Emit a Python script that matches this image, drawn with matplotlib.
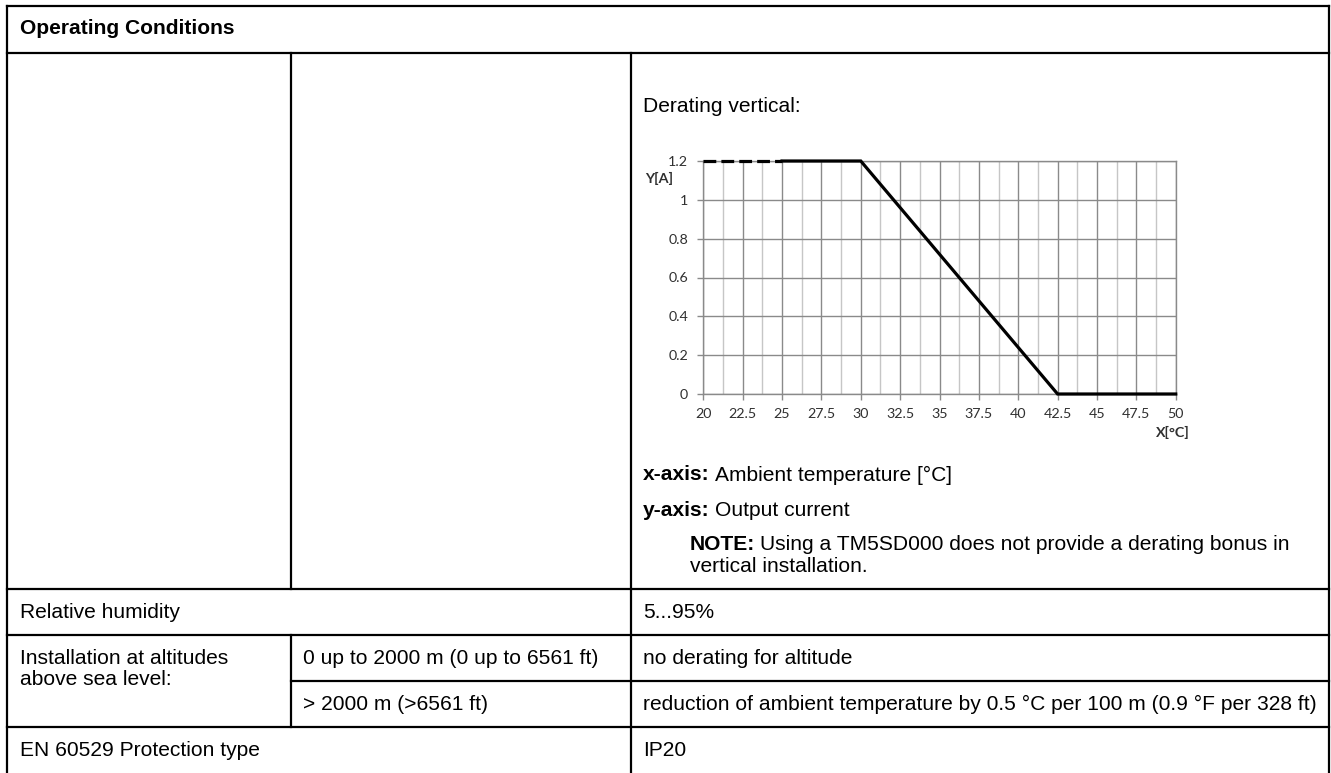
import matplotlib
matplotlib.use("Agg")
import matplotlib.pyplot as plt
from matplotlib.lines import Line2D
from matplotlib.ticker import MultipleLocator

# derating curve (ambient temperature vs output current)
temp_dashed = [20, 25]
current_dashed = [1.2, 1.2]
temp_solid = [25, 30, 42.5, 50]
current_solid = [1.2, 1.2, 0, 0]
x_ticks = [20, 22.5, 25, 27.5, 30, 32.5, 35, 37.5, 40, 42.5, 45, 47.5, 50]
y_ticks = [0, 0.2, 0.4, 0.6, 0.8, 1, 1.2]
x_tick_labels = ["20", "22.5", "25", "27.5", "30", "32.5", "35", "37.5", "40", "42.5", "45", "47.5", "50"]
y_tick_labels = ["0", "0.2", "0.4", "0.6", "0.8", "1", "1.2"]

# table text
header = "Operating Conditions"
row_labels = ["Relative humidity", "Installation at altitudes\nabove sea level:", "EN 60529 Protection type"]
altitude_ranges = ["0 up to 2000 m (0 up to 6561 ft)", "> 2000 m (>6561 ft)"]
row_values = ["5...95%", "no derating for altitude",
              "reduction of ambient temperature by 0.5 \u00b0C per 100 m (0.9 \u00b0F per 328 ft)", "IP20"]

W, H = 1331, 773
FS = 15.1
plt.rcParams['font.family'] = ['Liberation Sans', 'DejaVu Sans']
fig = plt.figure(figsize=(W / 100, H / 100), dpi=100)
renderer = fig.canvas.get_renderer()


def fx(x):
    return x / W


def fy(y):
    return 1 - y / H


def hline(y, x0, x1):
    fig.add_artist(Line2D([fx(x0), fx(x1)], [fy(y), fy(y)], color='black', lw=1.6,
                          transform=fig.transFigure, solid_capstyle='projecting'))


def vline(x, y0, y1):
    fig.add_artist(Line2D([fx(x), fx(x)], [fy(y0), fy(y1)], color='black', lw=1.6,
                          transform=fig.transFigure, solid_capstyle='projecting'))


def text(x, y, s, **kw):
    return fig.text(fx(x), fy(y), s, va='center', ha='left', fontsize=FS, color='black', **kw)


def bold_lead(x, y, lead, rest):
    # bold label followed by normal text on the same line
    t = text(x, y, lead, fontweight='bold')
    right = t.get_window_extent(renderer).x1
    text(right + 5, y, rest)


# table grid
hline(6, 7, 1329)
hline(53, 7, 1329)
hline(589, 7, 1329)
hline(635, 7, 1329)
hline(681, 291, 1329)
hline(727, 7, 1329)
vline(7, 6, 773)
vline(1329, 6, 773)
vline(291, 53, 589)
vline(291, 635, 727)
vline(631, 53, 773)

text(20, 29, header, fontweight='bold')
text(643, 107, "Derating vertical:")
bold_lead(643, 475, "x-axis:", "Ambient temperature [\u00b0C]")
bold_lead(643, 511, "y-axis:", "Output current")
bold_lead(690, 545, "NOTE:", "Using a TM5SD000 does not provide a derating bonus in")
text(690, 567, "vertical installation.")

text(20, 612, row_labels[0])
text(20, 669, row_labels[1], linespacing=1.12)
text(20, 750, row_labels[2])
text(303, 658, altitude_ranges[0])
text(303, 704, altitude_ranges[1])
text(643, 612, row_values[0])
text(643, 658, row_values[1])
text(643, 704, row_values[2])
text(643, 750, row_values[3])

# chart
ax = fig.add_axes([fx(703.3), fy(394), (1175.7 - 703.3) / W, (394 - 161) / H])
ax.plot(temp_dashed, current_dashed, color='black', lw=2.3, dashes=(4, 1.6),
        solid_capstyle='butt', zorder=5, clip_on=False)
ax.plot(temp_solid, current_solid, color='black', lw=2.3, zorder=5, clip_on=False,
        solid_joinstyle='miter')
ax.set_xlim(20, 50)
ax.set_ylim(0, 1.2)
ax.set_xticks(x_ticks)
ax.set_xticklabels(x_tick_labels)
ax.set_yticks(y_ticks)
ax.set_yticklabels(y_tick_labels)
ax.xaxis.set_minor_locator(MultipleLocator(1.25))
ax.grid(True, which='major', color='#8a8a8a', lw=1.0)
ax.grid(True, which='minor', axis='x', color='#c6c6c6', lw=1.0)
ax.set_axisbelow(True)
for s in ax.spines.values():
    s.set_color('#8a8a8a')
    s.set_linewidth(1.0)
ax.tick_params(which='major', length=4, width=1.0, color='#8a8a8a', labelsize=10.3,
               labelcolor='#303030', pad=6)
ax.tick_params(axis='y', pad=7)
ax.tick_params(which='minor', length=0)
for lab in ax.get_xticklabels() + ax.get_yticklabels():
    lab.set_family(['Lato', 'DejaVu Sans'])
ax.text(18.1, 1.11, "Y[A]", fontsize=10.3, fontweight='bold', family=['Lato', 'DejaVu Sans'],
        ha='right', va='center', color='#303030', clip_on=False)
ax.text(50.9, -0.196, "X[\u00b0C]", fontsize=10.3, fontweight='bold', family=['Lato', 'DejaVu Sans'],
        ha='right', va='center', color='#303030', clip_on=False)

fig.savefig("out.png", dpi=100)
